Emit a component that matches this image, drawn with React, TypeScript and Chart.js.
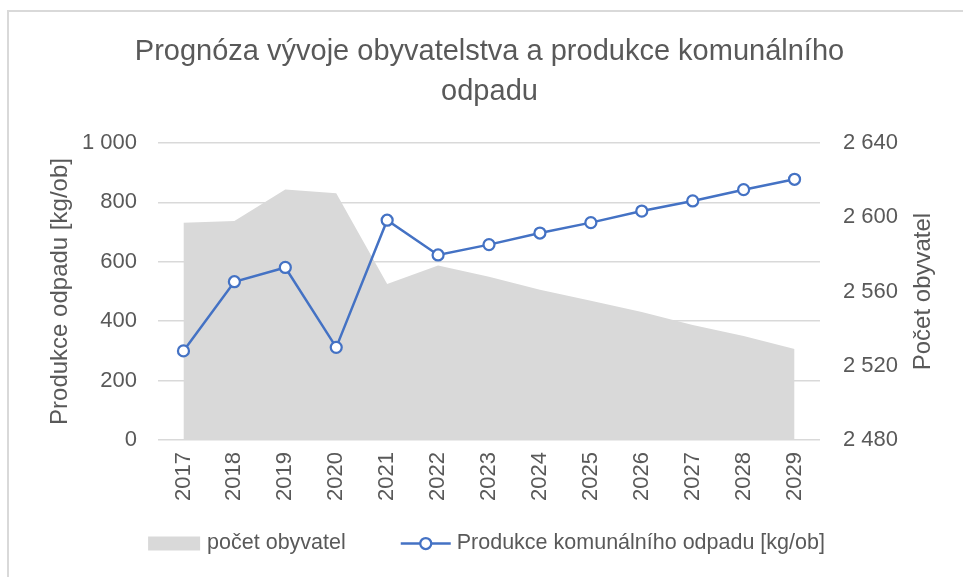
import React, { useEffect, useRef } from 'react';
import { Chart, registerables } from 'chart.js';

Chart.register(...registerables);

// ---- data ----
const years = ['2017', '2018', '2019', '2020', '2021', '2022', '2023', '2024', '2025', '2026', '2027', '2028', '2029'];
const wasteKgPerPerson = [300, 533, 581, 312, 740, 623, 658, 697, 732, 771, 805, 843, 878];
const population = [2597, 2598, 2615, 2613, 2564, 2574, 2568, 2561, 2555, 2549, 2542, 2536, 2529];
const leftTicks = [0, 200, 400, 600, 800, 1000];
const rightTicks = [2480, 2520, 2560, 2600, 2640];
const titleLines = ['Prognóza vývoje obyvatelstva a produkce komunálního', 'odpadu'];
const leftAxisTitle = 'Produkce odpadu [kg/ob]';
const rightAxisTitle = 'Počet obyvatel';
const legendPopulation = 'počet obyvatel';
const legendWaste = 'Produkce komunálního odpadu [kg/ob]';

// ---- styles ----
const FONT = '"Liberation Sans", Arial, sans-serif';
const TEXT = '#595959';
const GRID = '#d9d9d9';
const AREA = '#d9d9d9';
const LINE = '#4472c4';

const fmt = (v: number) => String(v).replace(/\B(?=(\d{3})+(?!\d))/g, ' ');

const overlayPlugin = {
  id: 'overlay',
  afterDraw(chart: any) {
    const { ctx, chartArea } = chart;
    // right axis title, reading bottom-to-top
    ctx.save();
    ctx.font = `24px ${FONT}`;
    ctx.fillStyle = TEXT;
    ctx.textAlign = 'center';
    ctx.textBaseline = 'middle';
    ctx.translate(chartArea.right + 103.5, (chartArea.top + chartArea.bottom) / 2);
    ctx.rotate(-Math.PI / 2);
    ctx.fillText(rightAxisTitle, 0, 0);
    ctx.restore();

    // legend
    ctx.save();
    ctx.font = `21.5px ${FONT}`;
    const t1 = ctx.measureText(legendPopulation).width;
    const t2 = ctx.measureText(legendWaste).width;
    const total = 52 + 7 + t1 + 55 + 50 + 6 + t2;
    let x = 486.5 - total / 2;
    const y = 543.5;
    ctx.fillStyle = AREA;
    ctx.fillRect(x, y - 7, 52, 14);
    x += 59;
    ctx.fillStyle = TEXT;
    ctx.textAlign = 'left';
    ctx.textBaseline = 'middle';
    ctx.fillText(legendPopulation, x, y);
    x += t1 + 55;
    ctx.strokeStyle = LINE;
    ctx.lineWidth = 2.5;
    ctx.beginPath();
    ctx.moveTo(x, y);
    ctx.lineTo(x + 50, y);
    ctx.stroke();
    ctx.beginPath();
    ctx.arc(x + 25, y, 5.5, 0, Math.PI * 2);
    ctx.fillStyle = '#ffffff';
    ctx.fill();
    ctx.lineWidth = 2.25;
    ctx.stroke();
    x += 56;
    ctx.fillStyle = TEXT;
    ctx.fillText(legendWaste, x, y);
    ctx.restore();
  },
};

export default function App() {
  const ref = useRef<HTMLCanvasElement | null>(null);

  useEffect(() => {
    if (!ref.current) return;
    const tickFont = { family: FONT, size: 22 };
    const chart = new Chart(ref.current, {
      type: 'line',
      data: {
        labels: years,
        datasets: [
          {
            label: legendWaste,
            data: wasteKgPerPerson,
            yAxisID: 'y',
            borderColor: LINE,
            borderWidth: 2.5,
            pointRadius: 5.5,
            pointBorderWidth: 2.25,
            pointBackgroundColor: '#ffffff',
            pointBorderColor: LINE,
            fill: false,
            tension: 0,
            order: 1,
          },
          {
            label: legendPopulation,
            data: population,
            yAxisID: 'y1',
            borderWidth: 0,
            borderColor: 'rgba(0,0,0,0)',
            backgroundColor: AREA,
            pointRadius: 0,
            fill: 'start',
            tension: 0,
            order: 2,
          },
        ],
      },
      options: {
        responsive: false,
        animation: false,
        layout: { padding: { left: 16, right: 0, top: 0, bottom: 0 } },
        plugins: {
          legend: { display: false },
          tooltip: { enabled: false },
          title: {
            display: true,
            text: titleLines,
            color: TEXT,
            font: { family: FONT, size: 29, weight: 'normal', lineHeight: 1.38 },
            padding: { top: 32, bottom: 31 },
          },
        },
        scales: {
          x: {
            type: 'category',
            offset: true,
            grid: { display: false, drawTicks: false },
            border: { display: false },
            ticks: {
              color: TEXT,
              font: tickFont,
              minRotation: 90,
              maxRotation: 90,
              autoSkip: false,
              padding: 12,
            },
            afterFit: (s: any) => {
              s.height = 137;
            },
          },
          y: {
            position: 'left',
            min: 0,
            max: 1000,
            afterBuildTicks: (s: any) => {
              s.ticks = leftTicks.map((v) => ({ value: v }));
            },
            grid: { color: GRID, lineWidth: 1.5, drawTicks: false },
            border: { display: false },
            ticks: {
              color: TEXT,
              font: tickFont,
              padding: 21,
              callback: (v: any) => fmt(Number(v)),
            },
            title: {
              display: true,
              text: leftAxisTitle,
              color: TEXT,
              font: { family: FONT, size: 24, lineHeight: 1.2 },
              padding: { top: 29.6, bottom: 0 },
            },
            afterFit: (s: any) => {
              s.width = 142;
            },
          },
          y1: {
            position: 'right',
            min: 2480,
            max: 2640,
            afterBuildTicks: (s: any) => {
              s.ticks = rightTicks.map((v) => ({ value: v }));
            },
            grid: { display: false, drawTicks: false },
            border: { display: false },
            ticks: {
              color: TEXT,
              font: tickFont,
              padding: 23,
              callback: (v: any) => fmt(Number(v)),
            },
            afterFit: (s: any) => {
              s.width = 143;
            },
          },
        },
      } as any,
      plugins: [overlayPlugin],
    });
    return () => chart.destroy();
  }, []);

  return (
    <div style={{ position: 'absolute', left: 0, top: 0, width: 963, height: 577, background: '#ffffff', overflow: 'hidden' }}>
      <div style={{ position: 'absolute', left: 7, top: 10, width: 2, height: 567, background: '#d9d9d9' }} />
      <div style={{ position: 'absolute', left: 7, top: 10, width: 956, height: 2, background: '#d9d9d9' }} />
      <canvas ref={ref} width={963} height={577} style={{ position: 'absolute', left: 0, top: 0, display: 'block' }} />
    </div>
  );
}
